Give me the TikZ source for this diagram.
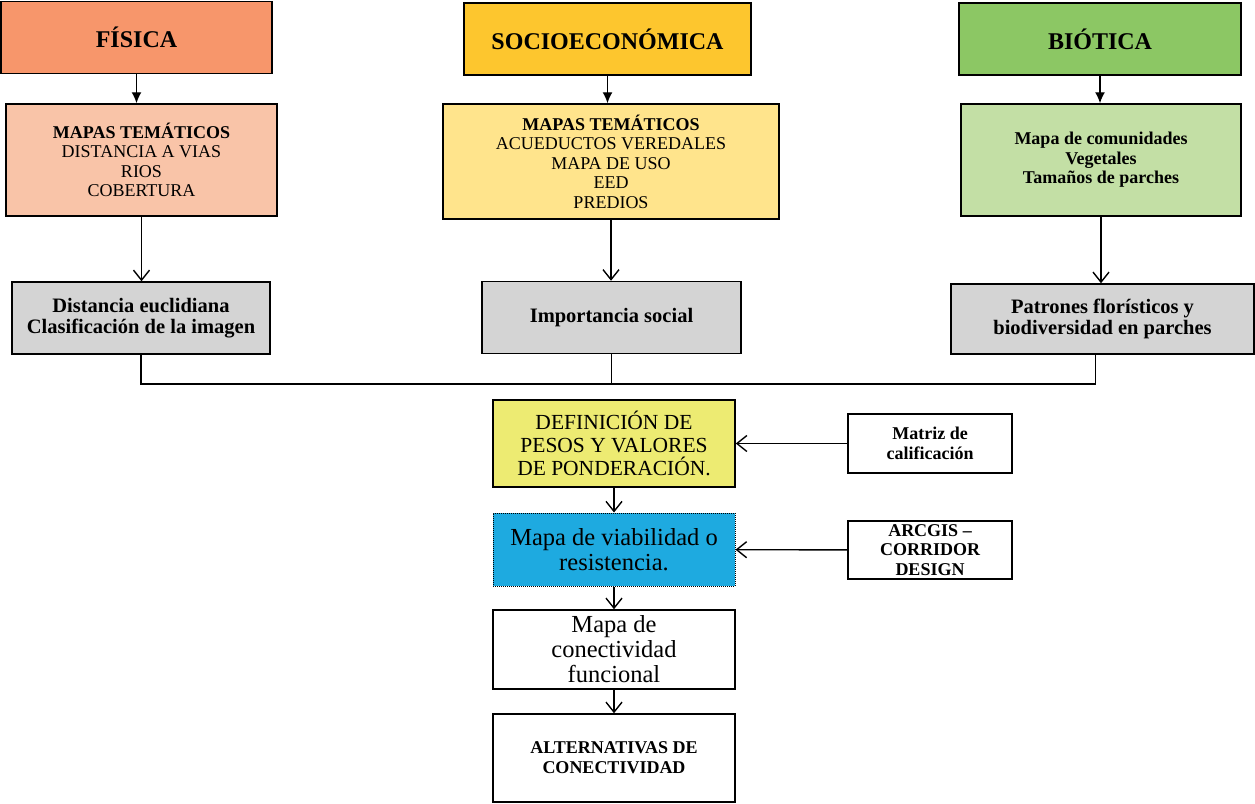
\documentclass[tikz,border=0pt]{standalone}
\usepackage{fontspec}
\setmainfont{Liberation Serif}
\usetikzlibrary{shapes,arrows.meta}
\definecolor{fisFuerte}{HTML}{F7966B}
\definecolor{fisSuave}{HTML}{F9C4A8}
\definecolor{socFuerte}{HTML}{FDC62E}
\definecolor{socSuave}{HTML}{FFE48C}
\definecolor{bioFuerte}{HTML}{8CC764}
\definecolor{bioSuave}{HTML}{C3DFA5}
\definecolor{grisCaja}{HTML}{D4D4D4}
\definecolor{pesoAmarillo}{HTML}{EDEB72}
\definecolor{viaAzul}{HTML}{1EAAE0}

\begin{document}
\begin{tikzpicture}[x=1pt,y=-1pt]
\tikzstyle{every node}=[rectangle,draw,line width=1.5pt,inner sep=2pt,align=center,text=black]
\tikzstyle{titulo}=[minimum height=72pt,font=\bfseries\fontsize{24}{28}\selectfont]
\tikzstyle{tematico}=[font=\fontsize{18}{19.5}\selectfont]
\tikzstyle{gris}=[fill=grisCaja,minimum height=72pt,font=\bfseries\fontsize{20.5}{21.7}\selectfont]
\tikzstyle{centro}=[minimum width=242pt,font=\fontsize{24.5}{25}\selectfont]
\tikzstyle{lado}=[minimum width=164pt,minimum height=58pt,font=\bfseries\fontsize{18}{19.5}\selectfont]
\tikzstyle{lleno}=[line width=1.4pt,-{Latex[length=11pt,width=10pt]}]
\tikzstyle{abierto}=[line width=1.4pt,-{Straight Barb[length=10pt,width=16pt]}]
\useasboundingbox (0,0) rectangle (1255,803);

% primera fila
\node[titulo,fill=fisFuerte,minimum width=271pt] (fis) at (136.5,37.5) {FÍSICA};
\node[titulo,fill=socFuerte,minimum width=287pt] (soc) at (607.5,39) {SOCIOECONÓMICA};
\node[titulo,fill=bioFuerte,minimum width=282pt] (bio) at (1100,39) {BIÓTICA};

% mapas tematicos
\node[tematico,fill=fisSuave,minimum width=271pt,minimum height=112pt] (fism) at (141.5,160)
 {\textbf{MAPAS TEMÁTICOS}\\DISTANCIA A VIAS\\RIOS\\COBERTURA};
\node[tematico,fill=socSuave,minimum width=336pt,minimum height=115pt] (socm) at (611,161.5)
 {\textbf{MAPAS TEMÁTICOS}\\ACUEDUCTOS VEREDALES\\MAPA DE USO\\EED\\PREDIOS};
\node[tematico,fill=bioSuave,minimum width=280pt,minimum height=112pt,font=\bfseries\fontsize{18}{19.5}\selectfont] (biom) at (1101,160)
 {Mapa de comunidades\\Vegetales\\Tamaños de parches};

% resultados
\node[gris,minimum width=258pt] (fisg) at (141,318) {Distancia euclidiana\\Clasificación de la imagen};
\node[gris,minimum width=259pt] (socg) at (611.5,317.5) {Importancia social};
\node[gris,minimum width=303pt,minimum height=70pt] (biog) at (1102.5,319) {Patrones florísticos y\\biodiversidad en parches};

% columna central
\node[centro,fill=pesoAmarillo,minimum height=87pt,font=\fontsize{21.5}{23}\selectfont] (def) at (614,443.5)
 {DEFINICIÓN DE\\PESOS Y VALORES\\DE PONDERACIÓN.};
\node[centro,fill=viaAzul,minimum height=73pt,line width=1pt,dash pattern=on 1pt off 1pt] (via) at (614,549.5)
 {Mapa de viabilidad o\\resistencia.};
\node[centro,minimum height=79pt] (con) at (614,649.5) {Mapa de\\conectividad\\funcional};
\node[centro,minimum height=88pt,font=\bfseries\fontsize{18}{20}\selectfont] (alt) at (614,758)
 {ALTERNATIVAS DE\\CONECTIVIDAD};

% entradas laterales
\node[lado,minimum height=59pt] (mat) at (930,443.5) {Matriz de\\calificación};
\node[lado] (arc) at (930,550) {ARCGIS --\\CORRIDOR\\DESIGN};

\coordinate (bus) at (611.5,384);

\draw[lleno] (fis.south) -- (fis.south |- fism.north);
\draw[lleno] (soc.south) -- (soc.south |- socm.north);
\draw[lleno] (bio.south) -- (bio.south |- biom.north);
\draw[abierto] (fism.south) -- (fism.south |- fisg.north);
\draw[abierto] (socm.south) -- (socm.south |- socg.north);
\draw[abierto] (biom.south) -- (biom.south |- biog.north);
\draw[line width=1.4pt] (fisg.south) |- (bus) -| ([xshift=-7pt]biog.south);
\draw[line width=1.4pt] (socg.south) -- (bus);
\draw[abierto] (def) -- (via);
\draw[abierto] (via) -- (con);
\draw[abierto] (con) -- (alt);
\draw[abierto] (mat) -- (def);
\draw[abierto] (arc) -- (via);
\end{tikzpicture}
\end{document}
